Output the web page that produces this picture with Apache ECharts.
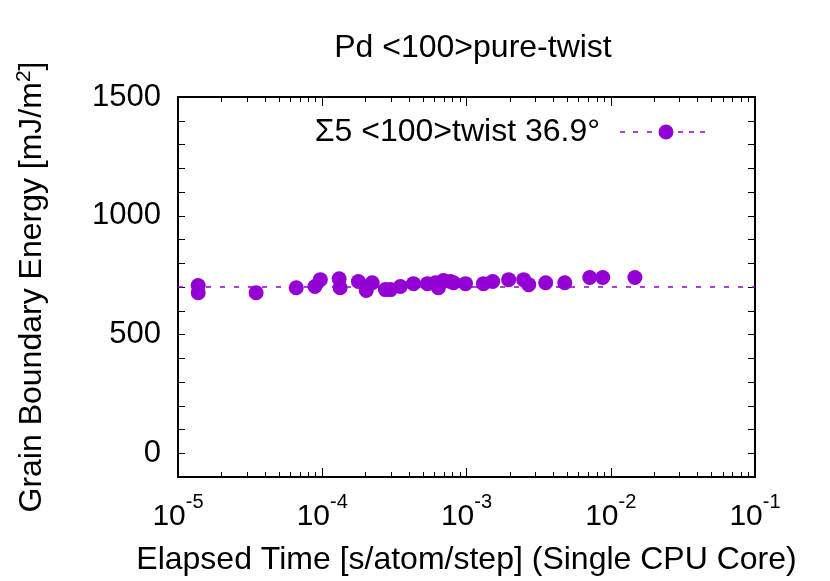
<!DOCTYPE html>
<html>
<head>
<meta charset="utf-8">
<script src="https://cdn.jsdelivr.net/npm/echarts@6/dist/echarts.min.js"></script>
<style>html,body{margin:0;padding:0;background:#fff}#c{width:830px;height:581px}</style>
</head>
<body>
<div id="c"></div>
<script>
// ---- data ----
const seriesName = 'Σ5 <100>twist 36.9°';
const elapsedTime = [1.38e-5, 1.38e-5, 3.48e-5, 6.6e-5, 8.9e-5, 9.7e-5, 1.31e-4, 1.33e-4, 1.78e-4, 2.02e-4, 2.22e-4, 2.74e-4, 2.97e-4, 3.48e-4, 4.29e-4, 5.36e-4, 6.09e-4, 6.39e-4, 6.92e-4, 7.74e-4, 8.13e-4, 9.84e-4, 1.31e-3, 1.52e-3, 1.96e-3, 2.49e-3, 2.70e-3, 3.54e-3, 4.80e-3, 7.15e-3, 8.8e-3, 1.47e-2];
const gbEnergy = [706, 676, 676, 697, 702, 731, 735, 697, 723, 685, 718, 689, 689, 702, 714, 714, 718, 697, 727, 723, 718, 714, 714, 723, 731, 731, 710, 718, 718, 740, 740, 740];
const referenceEnergy = 700;
const xDecades = [-5, -4, -3, -2, -1];
const yTickLabels = [0, 500, 1000, 1500];

const majorX = xDecades.map(e => Math.pow(10, e));
const minorX = [];
for (let i = 0; i < xDecades.length - 1; i++) {
  for (let m = 2; m <= 9; m++) minorX.push(m * Math.pow(10, xDecades[i]));
}
const points = elapsedTime.map((t, i) => [t, gbEnergy[i]]);

const FONT = 'Liberation Sans';
const FS = 32;
const TFS = 31;
const COLOR = '#9400D3';

function expLabel(v) {
  const e = Math.round(Math.log10(v));
  return '{b|10}{s|' + e + '}';
}

// legend icon: dashed line with a dot (85 x 15 box)
let iconPath = 'path://M46 0 A7.5 7.5 0 1 0 46 15 A7.5 7.5 0 1 0 46 0 Z';
[0, 13, 27, 58, 69, 80].forEach(x => { iconPath += ' M' + x + ' 6.7 h5 v1.6 h-5 Z'; });

const baseX = {
  type: 'log', logBase: 10, min: 1e-5, max: 1e-1, gridIndex: 0,
  splitLine: { show: false }, minorTick: { show: false }
};

const chart = echarts.init(document.getElementById('c'), null, { renderer: 'canvas' });
chart.setOption({
  animation: false,
  backgroundColor: '#fff',
  textStyle: { fontFamily: FONT },
  title: {
    text: 'Pd <100>pure-twist', left: 468, top: 27, textAlign: 'center',
    textStyle: { fontFamily: FONT, fontSize: FS, fontWeight: 'normal', color: '#000' }
  },
  legend: {
    right: 120, top: 111, align: 'right', itemWidth: 85, itemHeight: 15,
    icon: iconPath,
    data: [{ name: seriesName }],
    textStyle: { fontFamily: FONT, fontSize: FS, color: '#000', padding: [0, 15, 0, 0] }
  },
  grid: { left: 178, right: 75, top: 97, bottom: 103, containLabel: false },
  xAxis: [
    Object.assign({}, baseX, {
      position: 'bottom',
      name: 'Elapsed Time [s/atom/step] (Single CPU Core)', nameLocation: 'middle', nameGap: 67,
      nameTextStyle: { fontFamily: FONT, fontSize: FS, color: '#000' },
      axisLine: { show: true, onZero: false, lineStyle: { color: '#000', width: 2 } },
      axisTick: { show: true, inside: true, length: 9, customValues: majorX, lineStyle: { color: '#000', width: 1 } },
      axisLabel: {
        show: true, customValues: majorX, margin: 11, formatter: expLabel,
        rich: {
          b: { fontFamily: FONT, fontSize: 30, color: '#000', verticalAlign: 'bottom', lineHeight: 44 },
          s: { fontFamily: FONT, fontSize: 20, color: '#000', verticalAlign: 'top', lineHeight: 44, padding: [4, 0, 15, 0] }
        }
      }
    }),
    Object.assign({}, baseX, {
      position: 'bottom',
      axisLine: { show: false, onZero: false },
      axisTick: { show: true, inside: true, length: 5, customValues: minorX, lineStyle: { color: '#000', width: 1 } },
      axisLabel: { show: false }
    }),
    Object.assign({}, baseX, {
      position: 'top',
      axisLine: { show: true, onZero: false, lineStyle: { color: '#000', width: 2 } },
      axisTick: { show: true, inside: true, length: 9, customValues: majorX, lineStyle: { color: '#000', width: 1 } },
      axisLabel: { show: false }
    }),
    Object.assign({}, baseX, {
      position: 'top',
      axisLine: { show: false, onZero: false },
      axisTick: { show: true, inside: true, length: 5, customValues: minorX, lineStyle: { color: '#000', width: 1 } },
      axisLabel: { show: false }
    })
  ],
  yAxis: [
    {
      type: 'value', min: -100, max: 1500, interval: 100, position: 'left',
      name: 'Grain Boundary Energy [mJ/m{sup|2}]', nameLocation: 'middle', nameGap: 127,
      nameTextStyle: {
        fontFamily: FONT, fontSize: FS, color: '#000',
        rich: { sup: { fontFamily: FONT, fontSize: 21, color: '#000', verticalAlign: 'top', padding: [0, 0, 16, 0] } }
      },
      splitLine: { show: false },
      axisLine: { show: true, onZero: false, lineStyle: { color: '#000', width: 2 } },
      axisTick: { show: true, inside: true, length: 7, lineStyle: { color: '#000', width: 1 } },
      axisLabel: {
        margin: 17, fontFamily: FONT, fontSize: TFS, color: '#000',
        formatter: v => (yTickLabels.indexOf(v) >= 0 ? String(v) : '')
      }
    },
    {
      type: 'value', min: -100, max: 1500, interval: 100, position: 'right',
      splitLine: { show: false },
      axisLine: { show: true, onZero: false, lineStyle: { color: '#000', width: 2 } },
      axisTick: { show: true, inside: true, length: 7, lineStyle: { color: '#000', width: 1 } },
      axisLabel: { show: false }
    }
  ],
  series: [
    {
      name: seriesName, type: 'scatter', xAxisIndex: 0, yAxisIndex: 0,
      data: points, symbol: 'circle', symbolSize: 15,
      itemStyle: { color: COLOR, opacity: 1 },
      markLine: {
        silent: true, symbol: 'none', animation: false,
        label: { show: false },
        lineStyle: { color: COLOR, width: 1.5, type: [5, 9], opacity: 1 },
        emphasis: { disabled: true },
        data: [{ yAxis: referenceEnergy }]
      }
    }
  ]
});
</script>
</body>
</html>
